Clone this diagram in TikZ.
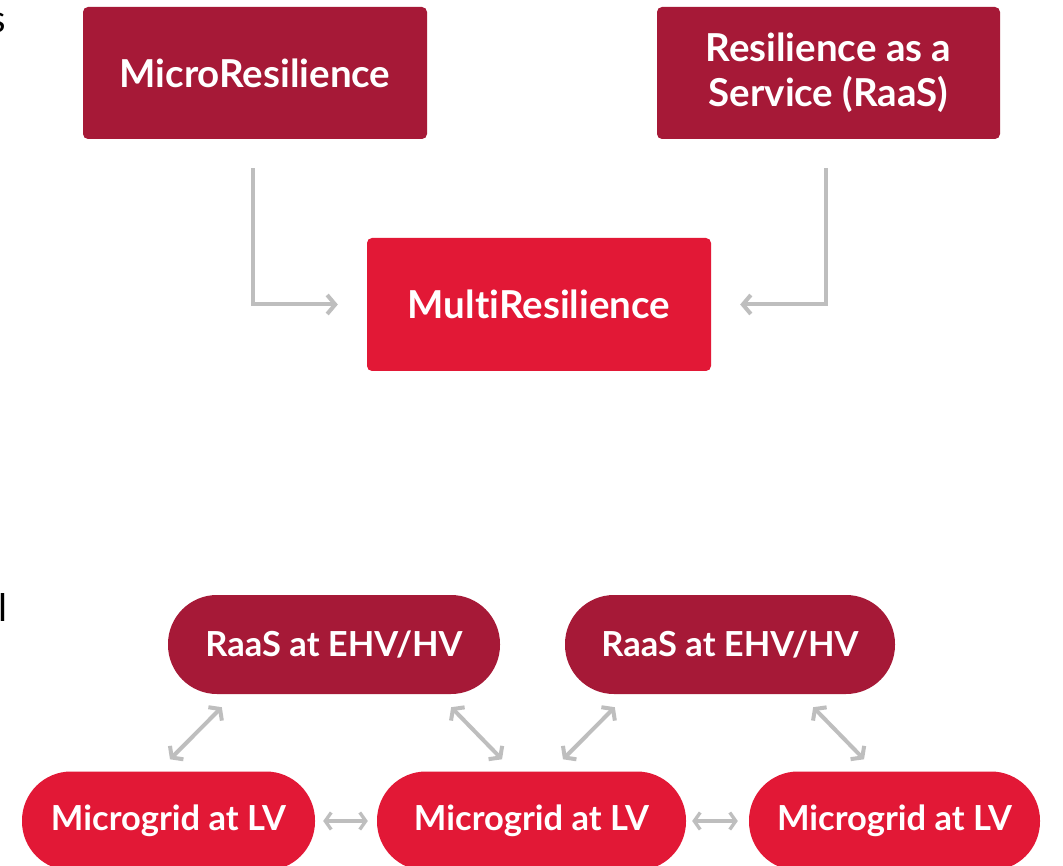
\documentclass[tikz,border=0pt]{standalone}
\usepackage{fontspec}
\setmainfont{Lato}[Ligatures=NoCommon]
\usetikzlibrary{arrows.meta,calc}
\definecolor{darkred}{RGB}{166,25,55}
\definecolor{brightred}{RGB}{226,24,54}
\definecolor{arrowgray}{RGB}{190,190,190}
\begin{document}
\begin{tikzpicture}[x=1pt,y=-1pt,
  sqbox/.style={rounded corners=5pt, inner sep=0pt, text=white, align=center,
    font=\fontsize{38.5}{45}\selectfont\bfseries},
  pill/.style={rounded corners=49pt, inner sep=0pt, minimum height=99pt, text=white,
    font=\fontsize{34.5}{40}\selectfont\bfseries},
  garrow/.style={draw=arrowgray, line width=4pt, -{Straight Barb[length=8pt,width=19pt]}},
  gdarrow/.style={draw=arrowgray, line width=4pt, {Straight Barb[length=7pt,width=19pt]}-{Straight Barb[length=7pt,width=19pt]}},
  hdarrow/.style={draw=arrowgray, line width=3.3pt, {Straight Barb[length=6pt,width=17pt]}-{Straight Barb[length=6pt,width=17pt]}},
  remnant/.style={inner sep=0pt, text=black, font=\fontsize{38}{40}\selectfont}]
\clip (0,0) rectangle (1063,866);
\fill[white] (0,0) rectangle (1063,866);
% top
\node[sqbox, fill=darkred, minimum width=344pt, minimum height=132pt] (micro) at (255,73) {MicroResilience};
\node[sqbox, fill=darkred, minimum width=343pt, minimum height=132pt] (raas) at (828.5,73) {Resilience as a\\Service (RaaS)};
\node[sqbox, fill=brightred, minimum width=344pt, minimum height=133pt] (multi) at (539,304.5) {MultiResilience};
\draw[garrow] (micro.south) ++(-2,29) |- ($(multi.west)+(-29,0)$);
\draw[garrow] (raas.south) ++(-2.5,29) |- ($(multi.east)+(29,0)$);
% bottom
\node[pill, fill=darkred, minimum width=332pt] (raasA) at (334,644.5) {RaaS at EHV/HV};
\node[pill, fill=darkred, minimum width=330pt] (raasB) at (730,644.5) {RaaS at EHV/HV};
\node[pill, fill=brightred, minimum width=293pt] (mgA) at (168.5,821) {Microgrid at LV};
\node[pill, fill=brightred, minimum width=309pt] (mgB) at (531.5,821) {Microgrid at LV};
\node[pill, fill=brightred, minimum width=291pt] (mgC) at (894.5,821) {Microgrid at LV};
\draw[gdarrow] ($(raasA.south west)+(54,13)$) -- ($(mgA.north)+(1.5,-12)$);
\draw[gdarrow] ($(raasA.south east)+(-49,13)$) -- ($(mgB.north)+(-29.5,-12)$);
\draw[gdarrow] ($(raasB.south west)+(50,13)$) -- ($(mgB.north)+(31.5,-12)$);
\draw[gdarrow] ($(raasB.south east)+(-82,13)$) -- ($(mgC.north)+(-30.5,-12)$);
\draw[hdarrow, shorten <=8pt, shorten >=9pt] (mgA) -- (mgB);
\draw[hdarrow, shorten <=6pt, shorten >=11pt] (mgB) -- (mgC);
% cut-off text at the left edge
\node[remnant, anchor=base east] (rs) at (6,33) {s};
\node[remnant, anchor=base] (rl) at (3,621) {l};
\end{tikzpicture}
\end{document}
